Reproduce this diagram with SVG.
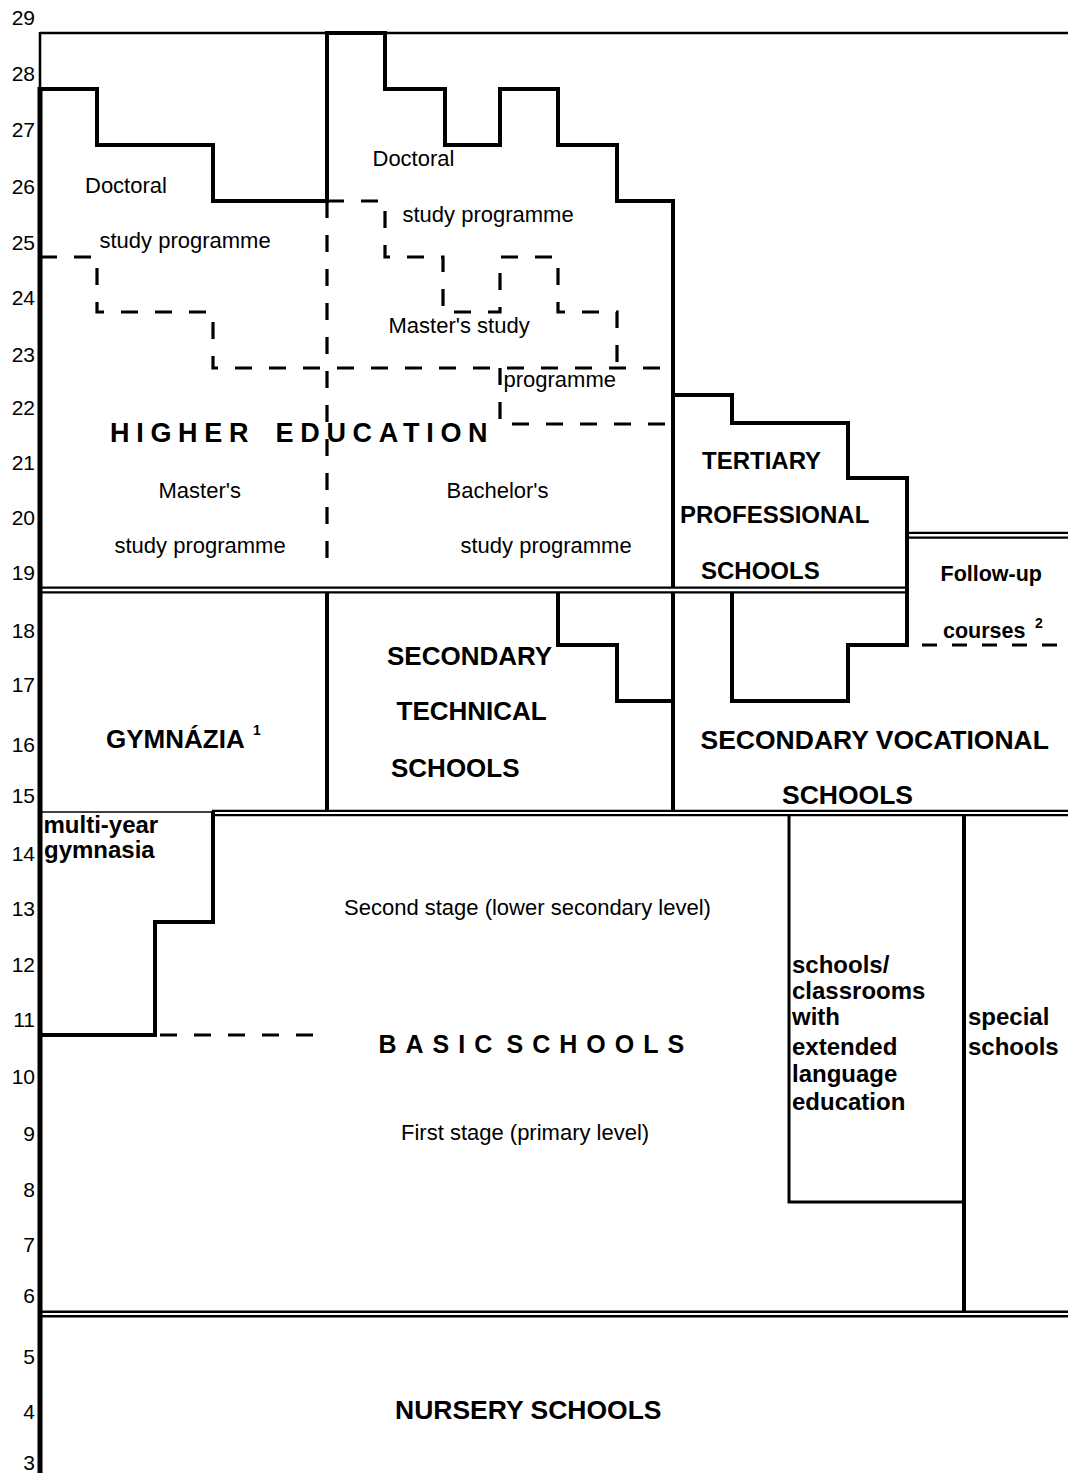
<svg xmlns="http://www.w3.org/2000/svg" width="1068" height="1473" viewBox="0 0 1068 1473">
<style>
.ax{font-family:"Liberation Sans",Arial,sans-serif;font-size:21px;fill:#000;text-anchor:end}
.r{font-family:"Liberation Sans",Arial,sans-serif;font-size:22px;fill:#000}
.b{font-family:"Liberation Sans",Arial,sans-serif;font-weight:bold;fill:#000}
.thick{fill:none;stroke:#000;stroke-width:4;stroke-linejoin:miter;stroke-linecap:square}
.mid{fill:none;stroke:#000;stroke-width:3}
.thin{fill:none;stroke:#000;stroke-width:2.6}
.hair{fill:none;stroke:#000;stroke-width:1.4}
.dash{fill:none;stroke:#000;stroke-width:3.2;stroke-dasharray:17 17}
.dash2{fill:none;stroke:#000;stroke-width:3;stroke-dasharray:15 15}
.dblk{fill:none;stroke:#000;stroke-width:7}
.dwht{fill:none;stroke:#fff;stroke-width:2.4}
</style>
<rect width="1068" height="1473" fill="#fff"/>

<g id="axis">
<path class="thin" d="M40,32 V89"/>
<path d="M40,87 V1473" fill="none" stroke="#000" stroke-width="5"/>
<text class="ax" x="35" y="25">29</text>
<text class="ax" x="35" y="81">28</text>
<text class="ax" x="35" y="137">27</text>
<text class="ax" x="35" y="194">26</text>
<text class="ax" x="35" y="250">25</text>
<text class="ax" x="35" y="305">24</text>
<text class="ax" x="35" y="362">23</text>
<text class="ax" x="35" y="415">22</text>
<text class="ax" x="35" y="470">21</text>
<text class="ax" x="35" y="525">20</text>
<text class="ax" x="35" y="580">19</text>
<text class="ax" x="35" y="638">18</text>
<text class="ax" x="35" y="692">17</text>
<text class="ax" x="35" y="752">16</text>
<text class="ax" x="35" y="803">15</text>
<text class="ax" x="35" y="861">14</text>
<text class="ax" x="35" y="916">13</text>
<text class="ax" x="35" y="972">12</text>
<text class="ax" x="35" y="1027">11</text>
<text class="ax" x="35" y="1084">10</text>
<text class="ax" x="35" y="1141">9</text>
<text class="ax" x="35" y="1197">8</text>
<text class="ax" x="35" y="1252">7</text>
<text class="ax" x="35" y="1303">6</text>
<text class="ax" x="35" y="1364">5</text>
<text class="ax" x="35" y="1419">4</text>
<text class="ax" x="35" y="1470">3</text>
</g>

<g id="boundaries">
<path class="thin" d="M40,33 H1068"/>
<path class="thick" d="M40,89 H97 V145 H213 V201 H327 V33 H385 V89 H445 V145 H500 V89 H558 V145 H617 V201 H673 V810"/>
<path class="dash" d="M40,257 H97 V312 H213 V368 H673"/>
<path class="dash" d="M327,201 V570"/>
<path class="dash" d="M327,201 H385 V257 H443 V312 H500 V257 H558 V312 H617 V368"/>
<path class="dash" d="M500,368 V424 H673"/>
<path class="thick" d="M673,395 H732 V423 H848 V478 H907 V645 H848 V701 H732 V592"/>
<path class="dash2" d="M922,645 H1068"/>
<path class="thick" d="M558,592 V645 H617 V701 H673"/>
<path class="thick" d="M327,592 V810"/>
<path class="hair" d="M40,812 H213"/>
<path class="thick" d="M213,813 V922 H155 V1035 H40"/>
<path class="dash" d="M160,1035 H327"/>
<path class="mid" d="M789,816 V1202 H964"/>
<path class="thick" d="M964,816 V1311"/>
<path class="dblk" d="M907,535.3 H1068"/>
<path class="dwht" d="M909,535.3 H1068"/>
<path class="dblk" d="M40,590 H907"/>
<path class="dwht" d="M42.5,590 H905"/>
<path class="dblk" d="M212,813 H1068" style="stroke-width:6.6"/>
<path class="dwht" d="M215,813 H1068" style="stroke-width:2"/>
<path class="dblk" d="M40,1314 H1068"/>
<path class="dwht" d="M42.5,1314 H1068" style="stroke-width:2"/>
</g>

<g id="higher-education">
<text class="r" x="85" y="193">Doctoral</text>
<text class="r" x="99.5" y="248">study programme</text>
<text class="r" x="372.5" y="166">Doctoral</text>
<text class="r" x="402.5" y="222">study programme</text>
<text class="r" x="388.5" y="333">Master's study</text>
<text class="r" x="503.5" y="387">programme</text>
<text class="b" y="442" font-size="27" letter-spacing="6.7"><tspan x="110">HIGHER </tspan><tspan x="275.5">EDUCATION</tspan></text>
<text class="r" x="158.5" y="498">Master's</text>
<text class="r" x="114.5" y="553">study programme</text>
<text class="r" x="446.5" y="498">Bachelor's</text>
<text class="r" x="460.5" y="553">study programme</text>
</g>

<g id="tertiary-professional-schools">
<text class="b" x="702" y="469" font-size="24">TERTIARY</text>
<text class="b" x="680" y="523" font-size="24">PROFESSIONAL</text>
<text class="b" x="701" y="579" font-size="24">SCHOOLS</text>
</g>

<g id="follow-up-courses">
<text class="b" x="940.5" y="581" font-size="21.5">Follow-up</text>
<text class="b" x="943" y="638" font-size="21.5">courses</text>
<text class="b" x="1035" y="628" font-size="14">2</text>
</g>

<g id="gymnazia">
<text class="b" x="106" y="748" font-size="26">GYMNÁZIA</text>
<text class="b" x="253" y="735" font-size="14">1</text>
</g>

<g id="secondary-technical-schools">
<text class="b" x="387" y="665" font-size="26">SECONDARY</text>
<text class="b" x="396.5" y="720" font-size="26">TECHNICAL</text>
<text class="b" x="391" y="777" font-size="26">SCHOOLS</text>
</g>

<g id="secondary-vocational-schools">
<text class="b" x="700.5" y="749" font-size="26.5">SECONDARY VOCATIONAL</text>
<text class="b" x="782" y="804" font-size="26.5">SCHOOLS</text>
</g>

<g id="multi-year-gymnasia">
<text class="b" x="43.5" y="833" font-size="24">multi-year</text>
<text class="b" x="44" y="858" font-size="24">gymnasia</text>
</g>

<g id="basic-schools">
<text class="r" x="344" y="915">Second stage (lower secondary level)</text>
<text class="b" y="1053" font-size="25" letter-spacing="9"><tspan x="378.5">BASIC </tspan><tspan x="506.5">SCHOOLS</tspan></text>
<text class="r" x="401" y="1140">First stage (primary level)</text>
</g>

<g id="extended-language-education">
<text class="b" x="792" y="973" font-size="24">schools/</text>
<text class="b" x="792" y="999" font-size="24">classrooms</text>
<text class="b" x="792" y="1025" font-size="24">with</text>
<text class="b" x="792" y="1055" font-size="24">extended</text>
<text class="b" x="792" y="1082" font-size="24">language</text>
<text class="b" x="792" y="1110" font-size="24">education</text>
</g>

<g id="special-schools">
<text class="b" x="968" y="1025" font-size="24">special</text>
<text class="b" x="968" y="1055" font-size="24">schools</text>
</g>

<g id="nursery-schools">
<text class="b" x="395" y="1419" font-size="26.5">NURSERY SCHOOLS</text>
</g>
</svg>
